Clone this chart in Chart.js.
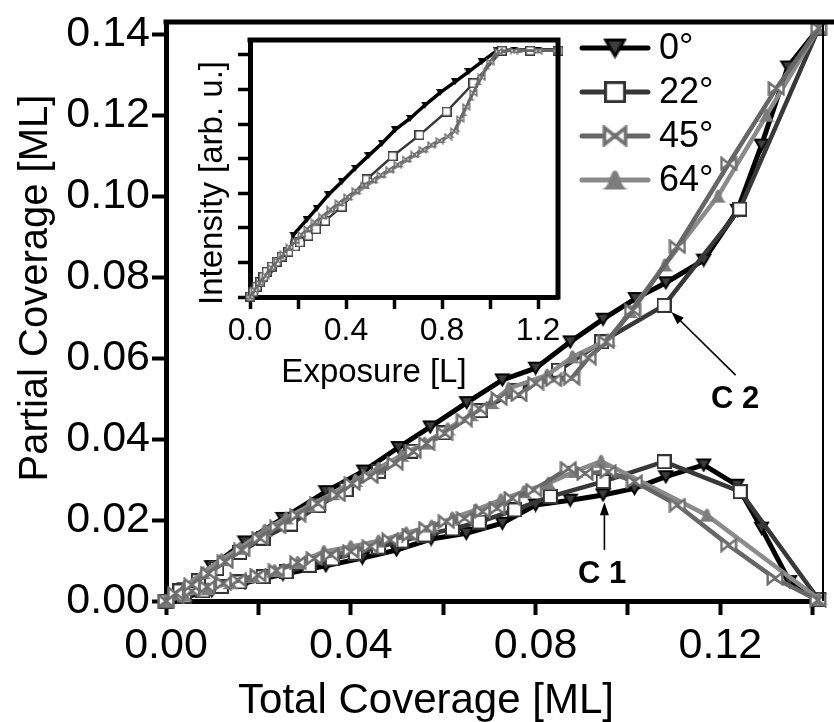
<!DOCTYPE html>
<html><head><meta charset="utf-8">
<script src="https://cdn.jsdelivr.net/npm/chart.js@4/dist/chart.umd.min.js"></script>
<style>
html,body{margin:0;padding:0;background:#fff;}
#wrap{position:relative;width:834px;height:722px;}
#wrap canvas{position:absolute;left:0;top:0;}
</style></head><body>
<div id="wrap"><canvas id="main" width="834" height="722"></canvas><canvas id="inset" width="834" height="722"></canvas></div>
<script>
// ---------- series & tick labels ----------
const seriesNames = ['0°', '22°', '45°', '64°'];
const mainXLabels = ['0.00', '', '0.04', '', '0.08', '', '0.12', ''];
const mainYLabels = ['0.00', '0.02', '0.04', '0.06', '0.08', '0.10', '0.12', '0.14'];
const insetXLabels = ['0.0', '', '0.4', '', '0.8', '', '1.2'];

// main plot: upper branch
const up0X = [0,0.004,0.0099,0.0171,0.0253,0.0346,0.0428,0.0503,0.0572,0.0651,0.0728,0.080,0.0875,0.0946,0.1016,0.1082,0.1164,0.1237,0.1289,0.1346,0.1413];
const up0Y = [0,0.003,0.0085,0.0146,0.0204,0.027,0.0321,0.0379,0.043,0.049,0.0546,0.0575,0.064,0.0696,0.0747,0.0786,0.0842,0.0965,0.1126,0.1319,0.1415];
const up22X = [0,0.003,0.007,0.011,0.016,0.021,0.027,0.033,0.039,0.046,0.053,0.060,0.068,0.076,0.085,0.0943,0.1078,0.1242,0.1413];
const up22Y = [0,0.0025,0.005,0.008,0.012,0.0155,0.019,0.0235,0.0275,0.032,0.037,0.0415,0.047,0.052,0.057,0.064,0.073,0.0968,0.1415];
const up45X = [0,0.0021,0.0056,0.0092,0.0128,0.0164,0.0203,0.0242,0.0285,0.0328,0.0371,0.0403,0.0442,0.0496,0.0535,0.0564,0.0603,0.0646,0.0678,0.0721,0.0764,0.080,0.0839,0.0878,0.0914,0.0953,0.101,0.1107,0.1218,0.1321,0.1413];
const up45Y = [0,0.0019,0.004,0.0068,0.0097,0.0126,0.0155,0.0183,0.0212,0.0241,0.0262,0.029,0.0307,0.034,0.0369,0.0389,0.0414,0.0447,0.0475,0.05,0.0509,0.0538,0.0546,0.055,0.06,0.064,0.0718,0.0875,0.108,0.1266,0.1415];
const up64X = [0,0.004,0.008,0.012,0.016,0.0214,0.026,0.031,0.036,0.041,0.046,0.051,0.056,0.061,0.066,0.0705,0.0742,0.0825,0.088,0.0957,0.1005,0.108,0.1195,0.130,0.1413];
const up64Y = [0,0.0035,0.007,0.0102,0.013,0.0175,0.0205,0.0235,0.0265,0.0298,0.0328,0.036,0.039,0.0425,0.046,0.049,0.0525,0.0558,0.0603,0.0645,0.0715,0.083,0.100,0.120,0.1415];

// main plot: lower branch
const lo0X = [0,0.004,0.0099,0.0171,0.0253,0.0346,0.0425,0.0499,0.0574,0.065,0.0728,0.080,0.0875,0.0946,0.1014,0.1082,0.1164,0.1236,0.1289,0.135,0.1413];
const lo0Y = [0,0.001,0.0025,0.0045,0.0066,0.0087,0.0106,0.0126,0.0153,0.0167,0.0192,0.0237,0.0249,0.0262,0.0278,0.0307,0.0336,0.0286,0.018,0.0048,0.0005];
const lo22X = [0,0.004,0.008,0.012,0.016,0.021,0.026,0.031,0.036,0.041,0.046,0.051,0.056,0.062,0.0678,0.0755,0.0832,0.0946,0.1078,0.1243,0.1413];
const lo22Y = [0,0.0012,0.0025,0.0036,0.0047,0.006,0.0072,0.0088,0.0104,0.0118,0.0133,0.0148,0.0163,0.0178,0.0195,0.0225,0.0258,0.0295,0.0344,0.027,0.0003];
const lo45X = [0,0.0021,0.0056,0.0089,0.0124,0.0156,0.0199,0.0239,0.0285,0.0321,0.0357,0.040,0.0442,0.0485,0.0528,0.0564,0.0607,0.0646,0.0685,0.0717,0.0749,0.0796,0.0871,0.0907,0.0957,0.1014,0.1107,0.1218,0.1318,0.1411];
const lo45Y = [0,0.001,0.0025,0.0035,0.0044,0.0052,0.0064,0.0075,0.0095,0.0105,0.0114,0.0122,0.0134,0.0151,0.0163,0.018,0.0196,0.0204,0.0221,0.0229,0.0254,0.0274,0.0328,0.0315,0.0319,0.0295,0.0237,0.0138,0.0056,0.0002];
const lo64X = [0,0.004,0.009,0.014,0.019,0.0235,0.0285,0.0342,0.040,0.046,0.052,0.0575,0.062,0.0671,0.0725,0.0775,0.0828,0.0885,0.0942,0.1171,0.1413];
const lo64Y = [0,0.0015,0.003,0.0045,0.006,0.0075,0.0095,0.0122,0.0134,0.0148,0.0168,0.0185,0.0205,0.0225,0.025,0.027,0.0291,0.032,0.0345,0.0212,0.0005];

// inset: intensity vs exposure
const in0X = [0,0.06,0.12,0.17,0.180,0.236,0.278,0.326,0.382,0.438,0.493,0.549,0.604,0.667,0.729,0.792,0.854,0.910,0.965,1.028,1.1,1.2,1.28];
const in0Y = [0,0.5,1.0,1.38,1.79,2.23,2.56,2.95,3.33,3.72,4.08,4.44,4.83,5.16,5.55,5.91,6.22,6.51,6.80,7.12,7.14,7.14,7.14];
const in22X = [0,0.014,0.028,0.042,0.056,0.069,0.090,0.111,0.132,0.160,0.188,0.208,0.243,0.275,0.313,0.382,0.486,0.594,0.706,0.819,0.931,1.049,1.167,1.285];
const in22Y = [0.01,0.15,0.30,0.43,0.59,0.73,0.88,1.02,1.17,1.31,1.46,1.58,1.77,1.96,2.20,2.61,3.40,4.07,4.68,5.36,6.18,7.12,7.12,7.12];
const in45X = [0,0.02,0.04,0.065,0.09,0.115,0.14,0.165,0.19,0.215,0.24,0.27,0.30,0.335,0.37,0.405,0.44,0.475,0.51,0.545,0.58,0.615,0.65,0.685,0.72,0.755,0.79,0.825,0.85,0.875,0.90,0.93,0.965,1.0,1.035,1.1,1.2,1.28];
const in45Y = [0,0.2,0.4,0.62,0.85,1.05,1.25,1.44,1.62,1.8,1.97,2.16,2.33,2.53,2.72,2.9,3.07,3.23,3.38,3.53,3.68,3.83,3.98,4.12,4.26,4.4,4.52,4.64,4.8,5.15,5.5,5.9,6.35,6.8,7.1,7.12,7.12,7.12];
const in64X = [0,0.025,0.05,0.075,0.1,0.13,0.16,0.19,0.22,0.25,0.28,0.31,0.345,0.38,0.415,0.45,0.485,0.52,0.555,0.59,0.625,0.66,0.695,0.73,0.765,0.8,0.835,0.86,0.89,0.92,0.95,0.985,1.02,1.05,1.12,1.2,1.28];
const in64Y = [0,0.25,0.5,0.72,0.93,1.17,1.4,1.62,1.82,2.0,2.17,2.33,2.52,2.7,2.87,3.04,3.2,3.36,3.52,3.67,3.82,3.97,4.11,4.25,4.4,4.53,4.68,4.85,5.3,5.75,6.2,6.65,7.0,7.12,7.13,7.13,7.13];

// ---------- styling ----------
const FONT = "'Liberation Sans', Arial, Helvetica, sans-serif";
Chart.defaults.font.family = FONT;
Chart.defaults.color = '#000';
const lineColors = ['#000000', '#383838', '#666666', '#8a8a8a'];

function mk(w, h, fn) { const c = document.createElement('canvas'); c.width = w; c.height = h; fn(c.getContext('2d'), w, h); return c; }
function triDown(w, h, fill, stroke, lw) {
  return mk(w, h, (g) => { g.beginPath(); g.moveTo(lw, lw); g.lineTo(w - lw, lw); g.lineTo(w / 2, h - lw); g.closePath();
    g.fillStyle = fill; g.fill(); if (lw > 0) { g.lineWidth = lw; g.strokeStyle = stroke; g.stroke(); } });
}
function square(s, stroke, lw) {
  return mk(s, s, (g) => { g.fillStyle = '#fff'; g.fillRect(lw / 2, lw / 2, s - lw, s - lw); g.lineWidth = lw; g.strokeStyle = stroke; g.strokeRect(lw / 2, lw / 2, s - lw, s - lw); });
}
function bowtie(w, h, stroke, lw) {
  return mk(w, h, (g) => { const m = lw / 2 + 0.5; g.beginPath(); g.moveTo(m, m); g.lineTo(w / 2, h / 2); g.lineTo(m, h - m); g.closePath();
    g.moveTo(w - m, m); g.lineTo(w / 2, h / 2); g.lineTo(w - m, h - m); g.closePath();
    g.fillStyle = '#fff'; g.fill(); g.lineJoin = 'miter'; g.lineWidth = lw; g.strokeStyle = stroke; g.stroke(); });
}
function bell(w, h, fill) {
  return mk(w, h, (g) => { g.beginPath(); g.moveTo(0, h - 1); g.bezierCurveTo(w * 0.35, h - 2, w * 0.3, 1, w / 2, 1); g.bezierCurveTo(w * 0.7, 1, w * 0.65, h - 2, w, h - 1); g.closePath(); g.fillStyle = fill; g.fill(); });
}
const mainMarkers = [triDown(17, 15, '#3c3c3c', '#000', 2), square(15, '#333', 2), bowtie(18, 15, '#6e6e6e', 2.4), bell(19, 15, '#7c7c7c')];
const insetMarkers = [triDown(8, 7, '#000', '#000', 0), square(10, '#3a3a3a', 1.5), bowtie(9, 8, '#6e6e6e', 1.4), bell(9, 7, '#7c7c7c')];

const pts = (xs, ys) => xs.map((x, i) => ({ x: x, y: ys[i] }));
const drawOrder = [3, 2, 0, 1]; // 45° on top
function ds(k, xs, ys, markers, lw) {
  return { label: seriesNames[k], data: pts(xs, ys), borderColor: lineColors[k], borderWidth: lw, pointStyle: markers[k],
    pointRadius: 7, pointHoverRadius: 7, tension: 0, fill: false, clip: false, order: drawOrder[k] };
}
const noPadX = (h) => (s) => { s.height = h; s.paddingLeft = 0; s.paddingRight = 0; };
const noPadY = (w) => (s) => { s.width = w; s.paddingTop = 0; s.paddingBottom = 0; };

// ---------- plugins ----------
const mainDecor = {
  id: 'mainDecor',
  afterDraw(chart) {
    const { ctx, chartArea: a, scales: { x, y } } = chart;
    ctx.save();
    // top & right frame
    ctx.strokeStyle = '#000'; ctx.lineCap = 'butt';
    ctx.lineWidth = 5; ctx.beginPath(); ctx.moveTo(a.left - 2.5, a.top); ctx.lineTo(834, a.top); ctx.stroke();
    ctx.lineWidth = 2; ctx.beginPath(); ctx.moveTo(a.right + 1, a.top); ctx.lineTo(a.right + 1, a.bottom); ctx.stroke();
    // axis titles
    ctx.fillStyle = '#000'; ctx.font = '42px ' + FONT; ctx.textAlign = 'center'; ctx.textBaseline = 'alphabetic';
    ctx.fillText('Total Coverage [ML]', 426, 713);
    ctx.save(); ctx.translate(47, 288); ctx.rotate(-Math.PI / 2); ctx.font = '40px ' + FONT; ctx.fillText('Partial Coverage [ML]', 0, 0); ctx.restore();
    // legend
    const rowsY = [48, 92, 136, 180];
    for (let k = 0; k < 4; k++) {
      const cy = rowsY[k];
      ctx.strokeStyle = lineColors[k]; ctx.lineWidth = 5; ctx.lineCap = 'round';
      ctx.beginPath(); ctx.moveTo(582, cy); ctx.lineTo(648, cy); ctx.stroke();
      const m = mainMarkers[k];
      const sc = 1.45;
      ctx.drawImage(m, 615 - m.width * sc / 2, cy - m.height * sc / 2, m.width * sc, m.height * sc);
      ctx.fillStyle = '#000'; ctx.font = '36px ' + FONT; ctx.textAlign = 'left'; ctx.textBaseline = 'middle';
      ctx.fillText(seriesNames[k], 659, cy + 1);
    }
    // annotations C1 / C2
    const arrow = (x0, y0, x1, y1) => {
      const px0 = x.getPixelForValue(x0), py0 = y.getPixelForValue(y0), px1 = x.getPixelForValue(x1), py1 = y.getPixelForValue(y1);
      const ang = Math.atan2(py1 - py0, px1 - px0);
      ctx.strokeStyle = '#000'; ctx.fillStyle = '#000'; ctx.lineWidth = 1.6; ctx.lineCap = 'butt';
      ctx.beginPath(); ctx.moveTo(px0, py0); ctx.lineTo(px1 - 8 * Math.cos(ang), py1 - 8 * Math.sin(ang)); ctx.stroke();
      ctx.beginPath(); ctx.moveTo(px1, py1);
      ctx.lineTo(px1 - 13 * Math.cos(ang) + 4.5 * Math.sin(ang), py1 - 13 * Math.sin(ang) - 4.5 * Math.cos(ang));
      ctx.lineTo(px1 - 13 * Math.cos(ang) - 4.5 * Math.sin(ang), py1 - 13 * Math.sin(ang) + 4.5 * Math.cos(ang));
      ctx.closePath(); ctx.fill();
    };
    arrow(0.0949, 0.0126, 0.0949, 0.0244);
    arrow(0.1233, 0.0558, 0.1094, 0.0714);
    ctx.font = 'bold 31px ' + FONT; ctx.textAlign = 'center'; ctx.textBaseline = 'alphabetic'; ctx.fillStyle = '#000';
    ctx.fillText('C 1', x.getPixelForValue(0.0944), y.getPixelForValue(0.0045));
    ctx.fillText('C 2', x.getPixelForValue(0.1232), y.getPixelForValue(0.0477));
    ctx.restore();
  }
};

const insetDecor = {
  id: 'insetDecor',
  beforeDraw(chart) {
    const { ctx, chartArea: a } = chart;
    ctx.save(); ctx.fillStyle = '#fff'; ctx.fillRect(a.left, a.top, a.right - a.left, a.bottom - a.top); ctx.restore();
  },
  afterDraw(chart) {
    const { ctx, chartArea: a } = chart;
    ctx.save();
    ctx.strokeStyle = '#000'; ctx.lineWidth = 5; ctx.lineCap = 'square';
    ctx.beginPath(); ctx.moveTo(a.left, a.top); ctx.lineTo(a.right, a.top); ctx.lineTo(a.right, a.bottom); ctx.stroke();
    ctx.fillStyle = '#000'; ctx.textAlign = 'center'; ctx.textBaseline = 'alphabetic'; ctx.font = '33px ' + FONT;
    ctx.fillText('Exposure [L]', 374, 382);
    ctx.save(); ctx.translate(222, 183); ctx.rotate(-Math.PI / 2); ctx.fillText('Intensity [arb. u.]', 0, 0); ctx.restore();
    ctx.restore();
  }
};

// ---------- main chart ----------
const mainDatasets = [
  ds(0, up0X, up0Y, mainMarkers, 5), ds(0, lo0X, lo0Y, mainMarkers, 5),
  ds(1, up22X, up22Y, mainMarkers, 4.5), ds(1, lo22X, lo22Y, mainMarkers, 4.5),
  ds(2, up45X, up45Y, mainMarkers, 4.5), ds(2, lo45X, lo45Y, mainMarkers, 4.5),
  ds(3, up64X, up64Y, mainMarkers, 4.5), ds(3, lo64X, lo64Y, mainMarkers, 4.5)
];
new Chart(document.getElementById('main'), {
  type: 'line',
  data: { datasets: mainDatasets },
  options: {
    responsive: false, animation: false, devicePixelRatio: 1,
    layout: { padding: { left: 0, right: 5, top: 22, bottom: 0 } },
    plugins: { legend: { display: false }, tooltip: { enabled: false } },
    scales: {
      x: { type: 'linear', min: 0, max: 0.142,
        afterFit: noPadX(722 - 601),
        ticks: { stepSize: 0.02, includeBounds: false, autoSkip: false, maxRotation: 0, padding: 5, font: { size: 43 }, color: '#000',
          callback: (v, i) => mainXLabels[i] },
        grid: { drawOnChartArea: false, drawTicks: true, tickLength: 14, tickWidth: 4, tickColor: '#000' },
        border: { display: true, width: 5, color: '#000' } },
      y: { type: 'linear', min: 0, max: 0.143,
        afterFit: noPadY(166),
        ticks: { stepSize: 0.02, includeBounds: false, autoSkip: false, padding: 2, font: { size: 43 }, color: '#000',
          callback: (v, i) => mainYLabels[i] },
        grid: { drawOnChartArea: false, drawTicks: true, tickLength: 14, tickWidth: 4, tickColor: '#000' },
        border: { display: true, width: 5, color: '#000' } }
    }
  },
  plugins: [mainDecor]
});

// ---------- inset chart ----------
const insetDatasets = [
  ds(0, in0X, in0Y, insetMarkers, 3.5), ds(1, in22X, in22Y, insetMarkers, 2.5),
  ds(2, in45X, in45Y, insetMarkers, 2.5), ds(3, in64X, in64Y, insetMarkers, 2.5)
];
insetDatasets.forEach(d => { d.pointRadius = 4; d.pointHoverRadius = 4; });
new Chart(document.getElementById('inset'), {
  type: 'line',
  data: { datasets: insetDatasets },
  options: {
    responsive: false, animation: false, devicePixelRatio: 1,
    layout: { padding: { left: 0, right: 834 - 558, top: 40, bottom: 0 } },
    plugins: { legend: { display: false }, tooltip: { enabled: false } },
    scales: {
      x: { type: 'linear', min: 0, max: 1.283,
        afterFit: noPadX(722 - 297),
        ticks: { stepSize: 0.2, includeBounds: false, autoSkip: false, maxRotation: 0, padding: 3, font: { size: 32 }, color: '#000',
          callback: (v, i) => insetXLabels[i] },
        grid: { drawOnChartArea: false, drawTicks: true, tickLength: 12, tickWidth: 3.5, tickColor: '#000' },
        border: { display: true, width: 5, color: '#000' } },
      y: { type: 'linear', min: 0, max: 7.43,
        afterFit: noPadY(250),
        ticks: { stepSize: 1, includeBounds: false, autoSkip: false, padding: 0, font: { size: 10 }, callback: () => '' },
        grid: { drawOnChartArea: false, drawTicks: true, tickLength: 12, tickWidth: 3.5, tickColor: '#000' },
        border: { display: true, width: 5, color: '#000' } }
    }
  },
  plugins: [insetDecor]
});
</script>
</body></html>
